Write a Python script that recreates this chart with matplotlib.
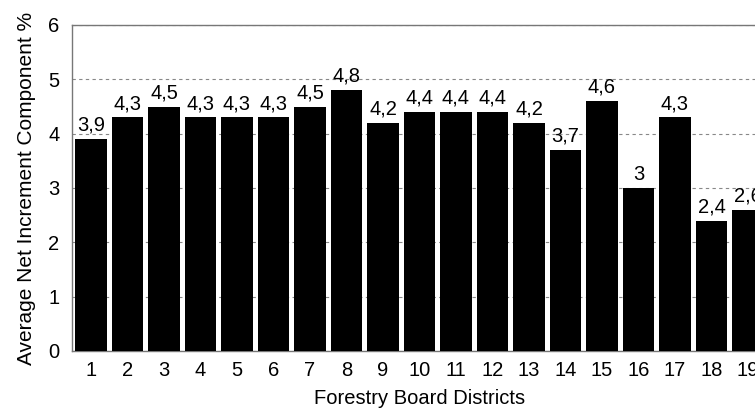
import matplotlib
matplotlib.use("Agg")
import matplotlib.pyplot as plt

districts = list(range(1, 20))
values = [3.9, 4.3, 4.5, 4.3, 4.3, 4.3, 4.5, 4.8, 4.2, 4.4, 4.4, 4.4, 4.2, 3.7, 4.6, 3.0, 4.3, 2.4, 2.6]
value_labels = ["3,9", "4,3", "4,5", "4,3", "4,3", "4,3", "4,5", "4,8", "4,2", "4,4",
                "4,4", "4,4", "4,2", "3,7", "4,6", "3", "4,3", "2,4", "2,6"]

plt.rcParams['font.family'] = ['Liberation Sans', 'DejaVu Sans']

W, H = 755, 412
fig = plt.figure(figsize=(W / 100, H / 100), dpi=100)
xmin, xmax = 0.48, 19.52
px_per_unit = 36.5
left_px, top_px, bottom_px = 72, 25, 351
ax = fig.add_axes([left_px / W, 1 - bottom_px / H,
                   (xmax - xmin) * px_per_unit / W, (bottom_px - top_px) / H])

ax.bar(districts, values, width=0.87, color='black', zorder=3)
for x, v, lab in zip(districts, values, value_labels):
    ax.text(x, v + 0.08, lab, ha='center', va='bottom', fontsize=14.5, zorder=4)

ax.set_xlim(xmin, xmax)
ax.set_ylim(0, 6)
ax.set_yticks(range(0, 7))
ax.set_xticks(districts)
ax.tick_params(axis='both', labelsize=14.5, length=0)
ax.tick_params(axis='x', pad=7)
ax.tick_params(axis='y', pad=9)
ax.yaxis.grid(True, linestyle=(0, (3, 3)), color='#888888', linewidth=0.8, zorder=0)
for s in ax.spines.values():
    s.set_color('#777777')
    s.set_linewidth(1)

ax.set_xlabel("Forestry Board Districts", fontsize=14.5, labelpad=7)
ax.set_ylabel("Average Net Increment Component %", fontsize=15, labelpad=9)

fig.savefig("out.png", dpi=100)
